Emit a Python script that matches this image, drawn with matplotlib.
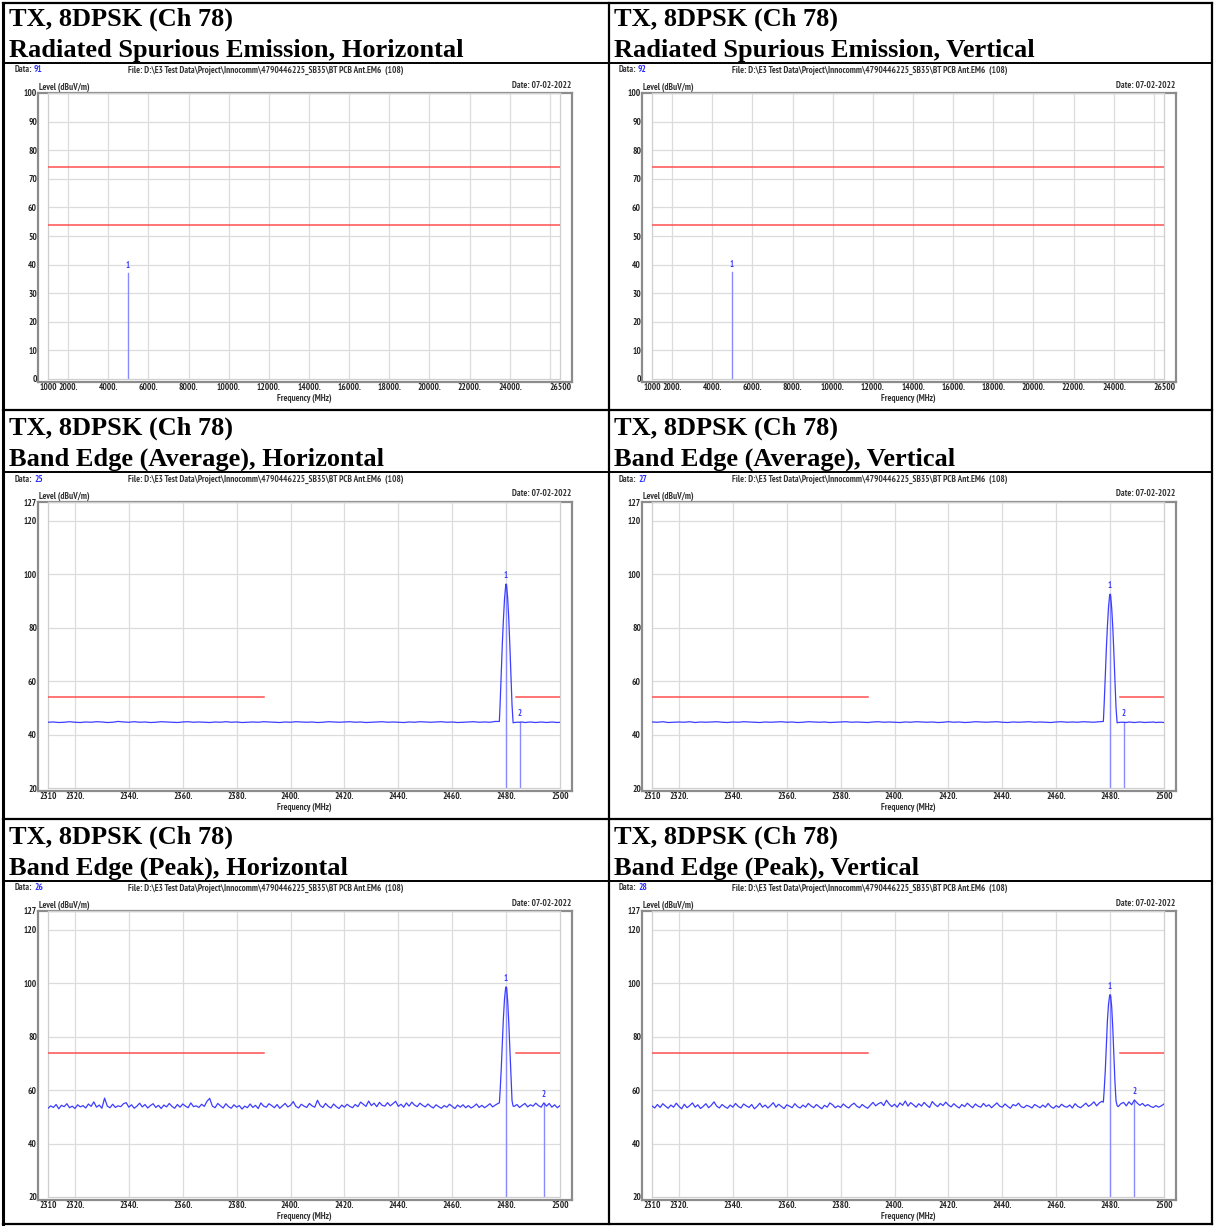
import numpy as np
import matplotlib.pyplot as plt
from matplotlib.lines import Line2D

W, H = 1215, 1226
fig = plt.figure(figsize=(W / 100, H / 100), dpi=100)

LABEL_FONT = ['Liberation Sans Narrow', 'Arial Narrow', 'PT Sans Narrow',
              'Roboto Condensed', 'Archivo Narrow', 'Liberation Sans']
TRACE = '#3d3dff'
MARKER = '#8a8aff'
LIMIT = '#ff5050'
GRID = '#dcdcdc'

# ---- data ----
titles = [
    ["Radiated Spurious Emission, Horizontal", "Radiated Spurious Emission, Vertical"],
    ["Band Edge (Average), Horizontal", "Band Edge (Average), Vertical"],
    ["Band Edge (Peak), Horizontal", "Band Edge (Peak), Vertical"],
]
data_ids = [[91, 92], [25, 27], [26, 28]]
file_name = "File: D:\\E3 Test Data\\Project\\Innocomm\\4790446225_SB35\\BT PCB Ant.EM6  (108)"
date_text = "Date: 07-02-2022"

# spurious emission (1 - 26.5 GHz)
spur_ticks = [1000, 2000, 4000, 6000, 8000, 10000, 12000, 14000, 16000,
              18000, 20000, 22000, 24000, 26500]
spur_tick_labels = ["1000", "2000.", "4000.", "6000.", "8000.", "10000.", "12000.",
                    "14000.", "16000.", "18000.", "20000.", "22000.", "24000.", "26500"]
spur_limits = [74, 54]
spur_marker_freq = [4960, 4960]
spur_marker_level = [37.2, 37.4]

# band edge (2310 - 2500 MHz)
be_ticks = [2310, 2320, 2340, 2360, 2380, 2400, 2420, 2440, 2460, 2480, 2500]
be_tick_labels = ["2310", "2320.", "2340.", "2360.", "2380.", "2400.", "2420.",
                  "2440.", "2460.", "2480.", "2500"]
be_limit_avg = 54
be_limit_peak = 74
be_limit_spans = [(2310, 2390), (2483.5, 2500)]

# average detector traces
avg_freq_lo = np.arange(2310, 2477, 2)
avg_h_lo = [44.6, 44.7, 44.5, 44.6, 44.8, 44.6, 44.5, 44.7, 44.6, 44.8, 44.7, 44.5, 44.6, 44.9,
            44.7, 44.6, 44.8, 44.6, 44.7, 44.5, 44.6, 44.8, 44.7, 44.6, 44.5, 44.7, 44.8, 44.6,
            44.7, 44.6, 44.5, 44.7, 44.6, 44.8, 44.6, 44.7, 44.5, 44.6, 44.7, 44.6, 44.8, 44.7,
            44.6, 44.5, 44.7, 44.6, 44.8, 44.7, 44.6, 44.7, 44.5, 44.6, 44.8, 44.7, 44.6, 44.7,
            44.8, 44.6, 44.7, 44.5, 44.6, 44.7, 44.8, 44.6, 44.7, 44.6, 44.5, 44.7, 44.6, 44.8,
            44.7, 44.6, 44.7, 44.8, 44.6, 44.7, 44.5, 44.6, 44.7, 44.8, 44.6, 44.7, 44.6, 44.9]
avg_v_lo = [44.7, 44.6, 44.8, 44.5, 44.6, 44.7, 44.6, 44.8, 44.5, 44.7, 44.6, 44.7, 44.8, 44.6,
            44.5, 44.7, 44.6, 44.8, 44.7, 44.6, 44.5, 44.7, 44.6, 44.7, 44.8, 44.6, 44.7, 44.5,
            44.6, 44.8, 44.7, 44.6, 44.7, 44.5, 44.6, 44.7, 44.8, 44.6, 44.7, 44.6, 44.5, 44.7,
            44.8, 44.6, 44.7, 44.6, 44.5, 44.7, 44.6, 44.8, 44.7, 44.6, 44.7, 44.5, 44.6, 44.8,
            44.6, 44.7, 44.5, 44.6, 44.8, 44.7, 44.6, 44.7, 44.8, 44.6, 44.5, 44.7, 44.6, 44.7,
            44.8, 44.6, 44.7, 44.6, 44.5, 44.7, 44.8, 44.6, 44.7, 44.6, 44.8, 44.7, 44.6, 44.8]
avg_freq_pk = [2477.5, 2477.8, 2478.2, 2478.6, 2479.0, 2479.4, 2479.8, 2480.0,
               2480.2, 2480.6, 2481.0, 2481.4, 2481.8, 2482.2, 2482.6]
avg_h_pk = [44.9, 52.0, 63.0, 74.0, 83.0, 90.5, 95.3, 96.3, 95.4, 90.8, 83.0, 73.0, 62.0, 51.0, 44.4]
avg_v_pk = [44.9, 51.5, 61.5, 72.0, 80.5, 87.5, 91.8, 92.5, 91.7, 87.2, 80.0, 70.5, 60.0, 50.0, 44.4]
avg_freq_hi = np.arange(2483, 2501, 1)
avg_h_hi = [44.5, 44.6, 44.6, 44.7, 44.5, 44.6, 44.7, 44.6, 44.5, 44.6,
            44.7, 44.6, 44.5, 44.6, 44.7, 44.6, 44.5, 44.6]
avg_v_hi = [44.5, 44.6, 44.6, 44.5, 44.7, 44.6, 44.5, 44.6, 44.7, 44.6,
            44.5, 44.6, 44.6, 44.7, 44.5, 44.6, 44.6, 44.5]

# peak detector traces
pk_freq_lo = np.arange(2310, 2478, 1)
pk_h_lo = [53.2, 54.1, 53.5, 54.6, 53.0, 54.3, 53.8, 54.9, 53.4, 54.0, 53.1, 54.5, 53.7, 54.2,
           53.3, 54.8, 53.9, 55.6, 53.6, 54.4, 53.2, 57.0, 54.0, 53.4, 54.7, 53.5, 54.1, 53.8,
           54.9, 55.3, 53.6, 54.5, 53.2, 54.0, 55.1, 53.7, 54.6, 53.3, 54.2, 54.9, 53.5, 54.3,
           53.1, 54.4, 53.7, 55.0, 53.9, 53.2, 54.6, 53.6, 54.8, 54.0, 53.4, 55.2, 53.8, 54.1,
           53.5, 54.7, 53.9, 55.8, 56.9, 54.0, 53.4, 55.0, 54.1, 53.3, 54.9, 53.8, 53.2, 54.5,
           53.6, 54.2, 52.9, 54.0, 53.4, 54.8, 53.5, 54.3, 53.1, 55.2, 54.0, 53.6, 54.9, 54.2,
           53.4, 54.6, 53.2, 54.1, 55.0, 53.7, 54.3, 55.7, 53.9, 53.3, 54.7, 54.0, 53.5, 55.0,
           54.1, 53.6, 56.2, 54.2, 53.5, 55.0, 53.9, 53.3, 54.8, 53.8, 53.1, 54.4, 53.6, 54.7,
           53.9, 53.4, 54.6, 53.8, 55.5, 54.7, 53.9, 55.9, 54.2, 55.1, 53.8, 55.4, 54.3, 54.0,
           55.3, 54.1, 54.9, 55.8, 53.9, 54.7, 53.6, 55.2, 54.0, 55.5, 54.4, 53.8, 55.1, 54.3,
           53.7, 54.8, 53.9, 53.3, 54.5, 53.8, 53.2, 54.2, 53.6, 54.7, 53.9, 53.1, 54.4, 53.6,
           54.5, 53.4, 54.2, 53.3, 53.9, 54.8, 53.5, 54.3, 53.4, 54.1, 54.9, 53.7, 54.4, 55.0]
pk_v_lo = [54.1, 53.3, 54.6, 53.5, 54.9, 54.0, 53.2, 54.4, 53.6, 55.1, 53.9, 53.0, 54.7, 53.4,
           54.2, 55.2, 53.6, 54.5, 53.1, 53.9, 54.9, 53.4, 54.3, 55.6, 54.0, 53.3, 54.6, 53.8,
           53.2, 54.4, 53.6, 55.0, 53.9, 53.3, 54.8, 54.1, 53.5, 54.6, 53.0, 53.9, 55.1, 53.6,
           54.4, 53.3, 54.2, 55.3, 53.6, 54.7, 53.9, 53.1, 54.5, 54.0, 53.4, 54.9, 53.8, 53.3,
           54.4, 53.6, 55.0, 54.1, 53.4, 54.6, 53.8, 53.0, 54.3, 53.6, 55.2, 54.5, 53.4, 54.1,
           53.5, 54.8, 53.9, 53.3, 54.4, 55.1, 54.0, 53.4, 54.6, 53.8, 53.2, 54.3, 55.4, 54.1,
           54.9, 55.4, 54.2, 56.2, 54.8, 53.8, 54.7, 53.6, 55.2, 54.3, 55.9, 54.0, 55.3, 54.5,
           53.6, 54.9, 54.0, 55.4, 54.3, 53.5, 55.7, 54.6, 53.8, 55.0, 54.2, 55.5, 54.4, 53.7,
           54.9, 54.0, 53.3, 54.6, 53.8, 55.1, 54.2, 53.4, 54.8, 54.0, 53.6, 55.0, 53.9, 54.5,
           53.4, 54.3, 55.2, 54.0, 53.6, 54.8, 53.9, 53.2, 54.6, 54.1, 55.1, 53.8, 53.4, 54.3,
           53.9, 53.3, 54.6, 54.0, 53.4, 54.4, 53.6, 55.0, 53.8, 53.2, 54.2, 53.5, 54.7, 53.9,
           53.6, 54.4, 53.3, 54.9, 53.9, 53.4, 54.2, 55.1, 53.9, 54.6, 55.6, 54.1, 55.2, 55.8]
pk_freq_pk = [2477.5, 2477.8, 2478.2, 2478.6, 2479.0, 2479.4, 2479.8, 2480.0,
              2480.2, 2480.6, 2481.0, 2481.4, 2481.8, 2482.2, 2482.6]
pk_h_pk = [55.2, 60.0, 68.0, 78.0, 87.0, 94.0, 98.0, 98.6, 98.0, 93.0, 85.0, 75.0, 64.0, 56.0, 54.0]
pk_v_pk = [55.5, 60.0, 67.0, 77.0, 86.0, 92.0, 95.2, 95.7, 95.1, 91.0, 83.0, 73.0, 63.0, 56.0, 54.2]
pk_freq_hi = np.arange(2483, 2501, 1)
pk_h_hi = [53.9, 54.6, 53.5, 54.3, 55.0, 53.7, 54.5, 54.0, 55.1, 54.2, 53.6, 55.2,
           54.0, 55.0, 53.6, 54.5, 53.4, 54.2]
pk_v_hi = [53.8, 54.9, 55.4, 54.1, 55.6, 54.5, 56.3, 55.2, 54.3, 55.0, 54.0, 54.6,
           53.9, 53.5, 54.2, 53.6, 54.1, 54.8]

# markers: (freq, level) for marker 1 and marker 2
avg_markers = [[(2480.0, 96.3), (2485.0, 44.6)], [(2480.0, 92.5), (2485.0, 44.6)]]
pk_markers = [[(2480.0, 98.6), (2494.0, 55.2)], [(2480.0, 95.7), (2489.0, 56.3)]]


def fx(x):
    return x / W


def fy(y):
    return 1 - y / H


def fig_line(x0, y0, x1, y1, lw=1.6):
    fig.add_artist(Line2D([fx(x0), fx(x1)], [fy(y0), fy(y1)],
                          transform=fig.transFigure, color='black', lw=lw))


def small_text(x, y, s, **kw):
    kw.setdefault('color', '#333333')
    fig.text(fx(x), fy(y), s, family=LABEL_FONT, weight='bold',
             fontsize=6.6, va='center', **kw)


def make_chart(col, row, xlim, ylim, xticks, xlabels, yticks, xgrid, ygrid):
    ox, oy = 604 * col, 409 * row
    frame = fig.add_axes([fx(38 + ox), fy(382 + oy), 534 / W, 289 / H])
    frame.set_xticks([])
    frame.set_yticks([])
    for s in frame.spines.values():
        s.set_color('#8c8c8c')
        s.set_linewidth(1.6)

    ax = fig.add_axes([fx(48 + ox), fy(379 + oy), 512 / W, 286 / H])
    ax.patch.set_alpha(0)
    ax.set_xlim(*xlim)
    ax.set_ylim(*ylim)
    for s in ax.spines.values():
        s.set_color('#cfcfcf')
        s.set_linewidth(0.9)
    for gx in xgrid:
        ax.axvline(gx, color=GRID, lw=0.9, zorder=0)
    for gy in ygrid:
        ax.axhline(gy, color=GRID, lw=0.9, zorder=0)
    ax.set_xticks(xticks)
    ax.set_xticklabels(xlabels)
    ax.set_yticks(yticks)
    ax.set_yticklabels([str(t) for t in yticks])
    ax.tick_params(axis='x', length=0, pad=3)
    ax.tick_params(axis='y', length=0, pad=8)
    for lab in ax.get_xticklabels() + ax.get_yticklabels():
        lab.set_family(LABEL_FONT)
        lab.set_weight('bold')
        lab.set_fontsize(6.6)
        lab.set_color('#222222')

    small_text(15 + ox, 70 + oy, "Data:")
    small_text(34 + ox, 70 + oy, str(data_ids[row][col]), color='#2b2bff')
    small_text(128 + ox, 70 + oy, file_name)
    small_text(571 + ox, 85 + oy, date_text, ha='right')
    small_text(39 + ox, 87 + oy, "Level (dBuV/m)")
    small_text(304 + ox, 398 + oy, "Frequency (MHz)", ha='center')
    return ax


def marker(ax, num, freq, level, ymin, dy):
    ax.plot([freq, freq], [ymin, level], color=MARKER, lw=1.0, zorder=2)
    ax.text(freq, level + dy, str(num), color='#3c3cff', fontsize=6.2,
            family=LABEL_FONT, weight='bold', ha='center', va='bottom', zorder=4)


# ---- table frame and titles ----
fig_line(3, 3, 1212, 3)
fig_line(3, 1224, 1212, 1224)
fig_line(3, 3, 3, 1224, lw=2.2)
fig_line(1212, 3, 1212, 1224)
fig_line(609, 3, 609, 1224)
for r in range(3):
    fig_line(3, 63 + 409 * r, 1212, 63 + 409 * r, lw=1.4)
    if r > 0:
        fig_line(3, 409 * r + 1, 1212, 409 * r + 1)
    for c in range(2):
        fig.text(fx(9 + 605 * c), fy(19 + 409 * r), "TX, 8DPSK (Ch 78)",
                 family='Liberation Serif', weight='bold', fontsize=19, va='center')
        fig.text(fx(9 + 605 * c), fy(50 + 409 * r), titles[r][c],
                 family='Liberation Serif', weight='bold', fontsize=19, va='center')

# ---- radiated spurious emission ----
for c in range(2):
    ax = make_chart(c, 0, (1000, 26500), (0, 100), spur_ticks, spur_tick_labels,
                    list(range(0, 101, 10)), range(2000, 26001, 2000), range(10, 91, 10))
    for lim in spur_limits:
        ax.plot([1000, 26500], [lim, lim], color=LIMIT, lw=1.1, zorder=3)
    marker(ax, 1, spur_marker_freq[c], spur_marker_level[c], 0, 1.0)

# ---- band edge ----
be_yticks = [20, 40, 60, 80, 100, 120, 127]
traces = [
    (1, be_limit_avg, avg_freq_lo, [avg_h_lo, avg_v_lo], avg_freq_pk, [avg_h_pk, avg_v_pk],
     avg_freq_hi, [avg_h_hi, avg_v_hi], avg_markers),
    (2, be_limit_peak, pk_freq_lo, [pk_h_lo, pk_v_lo], pk_freq_pk, [pk_h_pk, pk_v_pk],
     pk_freq_hi, [pk_h_hi, pk_v_hi], pk_markers),
]
for row, limit, f_lo, lo, f_pk, pk, f_hi, hi, marks in traces:
    for c in range(2):
        ax = make_chart(c, row, (2310, 2500), (20, 127), be_ticks, be_tick_labels,
                        be_yticks, range(2320, 2481, 20), range(40, 121, 20))
        for x0, x1 in be_limit_spans:
            ax.plot([x0, x1], [limit, limit], color=LIMIT, lw=1.1, zorder=3)
        freq = np.concatenate([f_lo, f_pk, f_hi])
        level = np.concatenate([lo[c], pk[c], hi[c]])
        ax.plot(freq, level, color=TRACE, lw=0.9, zorder=3)
        for i, (mf, ml) in enumerate(marks[c]):
            marker(ax, i + 1, mf, ml, 20, 1.5)

fig.savefig("out.png", dpi=100)
